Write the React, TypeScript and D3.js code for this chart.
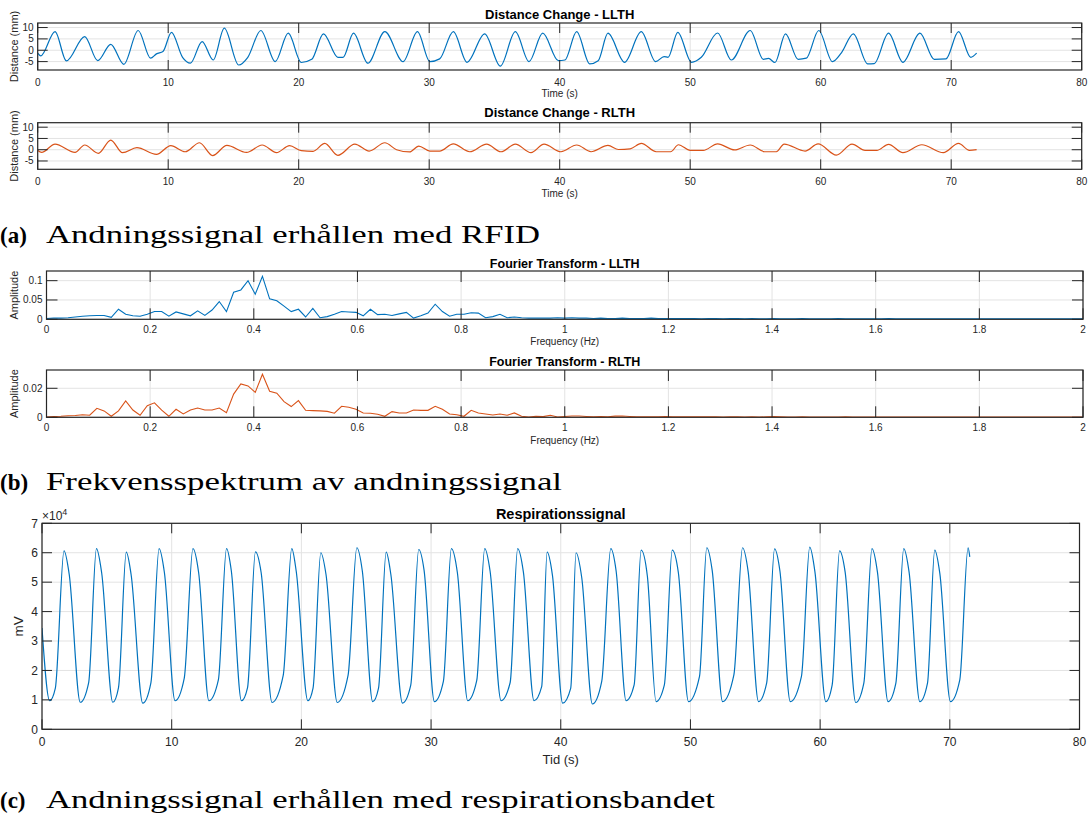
import React, { useRef, useEffect } from 'react';
import * as d3 from 'd3';

// distance change keypoints [time s, distance mm]
const llthDistance: [number, number][] = [
    [0, -1.3], [0.23, -2.5], [1.33, 8.2], [2.2, -4.7], [3.6, 6.0], [4.6, -4.6], [5.6, 2.6], [6.6, -6.2],
    [7.7, 8.7], [8.65, -3.5], [9.1, -1.6], [9.6, -0.6], [10.25, 7.9], [11.1, -3.1], [11.7, -5.7], [12.6, 3.8],
    [13.45, -4.3], [14.3, 9.7], [15.4, -6.5], [16.1, -3.1], [17.1, 8.7], [18.2, -5.0], [19.2, 7.5], [20.2, -5.4],
    [21.0, -4.0], [21.9, 7.2], [23.0, -3.1], [23.4, -3.1], [24.2, 7.5], [25.3, -5.7], [26.6, 8.2], [28.0, -5.0],
    [29.1, 8.2], [30.05, -5.0], [30.8, -3.8], [31.85, 8.2], [32.9, -5.3], [34.25, 7.2], [35.45, -7.0], [36.6, 8.2],
    [37.65, -5.0], [38.7, 7.5], [39.9, -4.6], [40.4, -4.3], [41.3, 8.2], [42.3, -6.0], [42.95, -4.6], [43.7, 7.5],
    [44.97, -5.3], [46.25, 8.2], [47.35, -5.0], [48.0, -2.8], [48.3, -3.1], [49.05, 7.9], [50.1, -5.3], [50.85, -3.1],
    [52.1, 7.6], [53.15, -4.3], [54.6, 8.7], [55.6, -4.0], [56.0, -3.6], [56.5, -5.4], [57.3, 7.2], [58.27, -4.0],
    [58.9, -3.5], [59.85, 8.7], [60.9, -5.0], [61.6, -1.0], [62.5, 7.2], [63.6, -6.0], [64.1, -5.9], [65.2, 7.5],
    [66.3, -5.3], [67.6, 7.5], [68.7, -4.0], [69.6, -3.8], [70.56, 8.2], [71.5, -3.1], [71.95, -1.3],
];

const rlthDistance: [number, number][] = [
    [0, -0.4], [0.3, -1.2], [1.33, 2.5], [2.86, -1.2], [3.6, 2.1], [4.65, -1.6], [5.6, 4.3], [6.5, -1.3],
    [7.6, 0.9], [9.1, -2.1], [10.2, 1.8], [11.3, -0.9], [12.4, 3.1], [13.4, -2.6], [14.5, 1.9], [16.0, -1.2],
    [17.2, 2.1], [18.3, -1.3], [19.3, 1.8], [20.2, -0.4], [21.1, -0.7], [22.0, 2.8], [23.0, -2.5], [24.3, 2.5],
    [25.4, -0.6], [26.6, 3.1], [27.5, 0.0], [28.5, -1.0], [29.2, 1.6], [30.05, -0.6], [30.8, -0.6], [31.85, 2.6],
    [33.1, -0.9], [34.4, 2.5], [35.5, -0.9], [36.6, 2.5], [37.8, -1.3], [38.8, 2.5], [40.1, -0.9], [41.3, 2.1],
    [42.4, -0.9], [43.7, 1.9], [44.5, 0.1], [45.4, 0.4], [46.25, 2.8], [47.4, -0.9], [48.5, -0.9], [49.1, 2.2],
    [50.0, -0.3], [51.0, -0.3], [52.1, 2.6], [53.4, -0.1], [54.6, 2.1], [55.7, -0.9], [56.6, -0.9], [57.2, 2.5],
    [58.8, -0.6], [59.8, 2.6], [61.2, -2.4], [62.4, 2.5], [63.4, -0.3], [64.3, -0.3], [65.2, 2.4], [66.3, -1.3],
    [67.75, 2.2], [69.4, -1.3], [70.56, 2.8], [71.4, -0.3], [71.95, 0],
];

// spectrum amplitude per bin, bin width 1/72 Hz, 0..2 Hz
const binHz = 1 / 72;
const llthSpectrum = [
    0.002, 0.003, 0.003, 0.004, 0.006, 0.008, 0.009, 0.010, 0.010, 0.005,
    0.026, 0.013, 0.009, 0.008, 0.013, 0.020, 0.020, 0.008, 0.019, 0.014,
    0.009, 0.022, 0.010, 0.024, 0.046, 0.020, 0.070, 0.076, 0.100, 0.065,
    0.111, 0.053, 0.048, 0.034, 0.020, 0.026, 0.006, 0.028, 0.004, 0.007,
    0.013, 0.020, 0.019, 0.018, 0.009, 0.026, 0.012, 0.013, 0.010, 0.014,
    0.018, 0.003, 0.009, 0.016, 0.039, 0.020, 0.008, 0.013, 0.013, 0.017,
    0.016, 0.004, 0.007, 0.013, 0.004, 0.006, 0.004, 0.003, 0.003, 0.003,
    0.003, 0.004, 0.003,
    0.004, 0.003, 0.003, 0.002, 0.003, 0.002, 0.002, 0.003, 0.002, 0.002,
    0.002, 0.003, 0.002, 0.002, 0.002, 0.002, 0.002, 0.002, 0.001, 0.002,
    0.002, 0.001, 0.002, 0.002, 0.001, 0.002, 0.001, 0.001, 0.002, 0.001,
    0.001, 0.001, 0.002, 0.001, 0.001, 0.001, 0.001, 0.002, 0.001, 0.001,
    0.001, 0.001, 0.001, 0.001, 0.002, 0.001, 0.001, 0.001, 0.001, 0.001,
    0.001, 0.001, 0.001, 0.001, 0.001, 0.001, 0.001, 0.001, 0.001, 0.001,
    0.001, 0.001, 0.001, 0.001, 0.001, 0.001, 0.001, 0.001, 0.001, 0.001,
    0.001, 0.001,
];
const rlthSpectrum = [
    0.0002, 0.0005, 0.0007, 0.0011, 0.0012, 0.0018, 0.0014, 0.0062, 0.0044, 0.0007,
    0.0044, 0.0113, 0.0050, 0.0014, 0.0080, 0.0100, 0.0050, 0.0007, 0.0055, 0.0023,
    0.0050, 0.0064, 0.0050, 0.0050, 0.0064, 0.0032, 0.0160, 0.0230, 0.0216, 0.0172,
    0.0297, 0.0180, 0.0166, 0.0108, 0.0074, 0.0115, 0.0048, 0.0046, 0.0044, 0.0041,
    0.0028, 0.0076, 0.0069, 0.0055, 0.0030, 0.0028, 0.0021, 0.0007, 0.0039, 0.0030,
    0.0030, 0.0050, 0.0048, 0.0048, 0.0076, 0.0055, 0.0023, 0.0018, 0.0007, 0.0048,
    0.0030, 0.0023, 0.0016, 0.0023, 0.0014, 0.0030, 0.0007, 0.0002, 0.0007, 0.0005,
    0.0014, 0.0002, 0.0005,
    0.0009, 0.0009, 0.0006, 0.0004, 0.0005, 0.0004, 0.0008, 0.0009, 0.0006, 0.0004,
    0.0003, 0.0004, 0.0003, 0.0005, 0.0004, 0.0003, 0.0003, 0.0004, 0.0003, 0.0003,
    0.0003, 0.0002, 0.0003, 0.0003, 0.0002, 0.0003, 0.0002, 0.0003, 0.0005, 0.0003,
    0.0002, 0.0002, 0.0003, 0.0002, 0.0002, 0.0002, 0.0002, 0.0002, 0.0003, 0.0002,
    0.0002, 0.0002, 0.0002, 0.0002, 0.0002, 0.0002, 0.0002, 0.0002, 0.0002, 0.0002,
    0.0002, 0.0002, 0.0002, 0.0002, 0.0002, 0.0002, 0.0002, 0.0002, 0.0002, 0.0002,
    0.0002, 0.0002, 0.0002, 0.0002, 0.0002, 0.0002, 0.0002, 0.0002, 0.0002, 0.0002,
    0.0002, 0.0002,
];

// respiration band keypoints [time s, mV]: trough, start of rise, peak, shoulder
const respiration: [number, number][] = [
    [0, 34400],
    [0.59, 9700], [1.03, 14000], [1.70, 60600], [2.10, 52600],
    [2.95, 9200], [3.60, 15900], [4.20, 61400], [4.60, 53200],
    [5.46, 9200], [5.90, 14200], [6.50, 60200], [6.87, 52600],
    [7.77, 8900], [8.40, 15900], [9.03, 61400], [9.44, 53200],
    [10.26, 9700], [10.97, 17400], [11.64, 61400], [12.08, 53200],
    [12.87, 9700], [13.60, 16800], [14.23, 61400], [14.60, 53800],
    [15.38, 9700], [15.85, 14200], [16.46, 60300], [16.90, 53200],
    [17.74, 9100], [18.60, 18300], [19.26, 61400], [19.60, 53800],
    [20.50, 9700], [20.90, 14000], [21.50, 60000], [21.90, 52600],
    [22.77, 9100], [23.60, 18300], [24.28, 61700], [24.70, 53800],
    [25.50, 9400], [25.95, 14000], [26.54, 60200], [26.90, 52600],
    [27.80, 8900], [28.43, 14900], [29.05, 61100], [29.46, 54100],
    [30.26, 9400], [30.95, 16300], [31.57, 61400], [32.03, 53200],
    [32.83, 9700], [33.52, 16500], [34.14, 61400], [34.55, 53800],
    [35.40, 9700], [36.10, 15900], [36.68, 61400], [37.12, 53400],
    [37.94, 9700], [38.53, 14500], [38.95, 60200], [39.36, 52300],
    [40.15, 8900], [40.77, 14000], [41.18, 60000], [41.62, 51500],
    [42.44, 8600], [43.16, 16300], [43.86, 61400], [44.27, 53800],
    [45.04, 9700], [45.66, 15100], [46.20, 60900], [46.68, 52000],
    [47.35, 9400], [47.99, 15100], [48.60, 60900], [49.07, 53200],
    [49.85, 9400], [50.70, 18000], [51.26, 61700], [51.68, 53900],
    [52.48, 9400], [53.35, 18500], [54.02, 61700], [54.45, 53600],
    [55.25, 9400], [55.88, 15800], [56.49, 61300], [56.90, 53800],
    [57.70, 9400], [58.56, 18000], [59.20, 61900], [59.60, 53500],
    [60.44, 9400], [60.93, 15100], [61.50, 60600], [61.93, 53400],
    [62.75, 9100], [63.37, 15700], [64.00, 61400], [64.42, 53400],
    [65.24, 9400], [65.84, 15700], [66.45, 61400], [66.86, 53400],
    [67.69, 9400], [68.28, 15700], [68.84, 60900], [69.23, 53000],
    [70.05, 9400], [70.77, 16800], [71.41, 61700], [71.54, 58600],
];

const timeTicks = [0, 10, 20, 30, 40, 50, 60, 70, 80];
const distanceTicks = [-5, 0, 5, 10];
const freqTicks = [0, 0.2, 0.4, 0.6, 0.8, 1, 1.2, 1.4, 1.6, 1.8, 2];
const llthAmpTicks = [0, 0.05, 0.1];
const rlthAmpTicks = [0, 0.02];
const respTicks = [0, 10000, 20000, 30000, 40000, 50000, 60000, 70000];

const BLUE = '#0072BD';
const ORANGE = '#D95319';
const AX = '#262626';
const GRID = '#e3e3e3';
const SANS = 'Liberation Sans, Arial, Helvetica, sans-serif';
const SERIF = 'Liberation Serif';

interface Panel {
    left: number; right: number; top: number; bottom: number;
    xDomain: [number, number]; yDomain: [number, number];
    xTicks: number[]; yTicks: number[];
    yFmt: (d: number) => string;
    tickFont: number; tickLen: number; xTickBase: number;
    title: string; titleFont: number; titleBase: number;
    xLabel: string; xLabelFont: number; xLabelBase: number;
    yLabel: string; yLabelFont: number; yLabelX: number;
}

type Sel = d3.Selection<SVGSVGElement, unknown, null, undefined>;

function drawPanel(svg: Sel, p: Panel, id: string,
    drawData: (g: d3.Selection<SVGGElement, unknown, null, undefined>, x: d3.ScaleLinear<number, number>, y: d3.ScaleLinear<number, number>) => void) {
    const x = d3.scaleLinear().domain(p.xDomain).range([p.left, p.right]);
    const y = d3.scaleLinear().domain(p.yDomain).range([p.bottom, p.top]);
    const g = svg.append('g');

    // grid
    g.selectAll('.vg').data(p.xTicks).enter().append('line')
        .attr('x1', d => x(d)).attr('x2', d => x(d))
        .attr('y1', p.top).attr('y2', p.bottom)
        .attr('stroke', GRID).attr('stroke-width', 1);
    g.selectAll('.hg').data(p.yTicks).enter().append('line')
        .attr('x1', p.left).attr('x2', p.right)
        .attr('y1', d => y(d)).attr('y2', d => y(d))
        .attr('stroke', GRID).attr('stroke-width', 1);

    svg.append('clipPath').attr('id', id).append('rect')
        .attr('x', p.left).attr('y', p.top)
        .attr('width', p.right - p.left).attr('height', p.bottom - p.top);
    const dg = g.append('g').attr('clip-path', `url(#${id})`);
    drawData(dg, x, y);

    // ticks, inward on all four sides
    const tk = g.append('g').attr('stroke', AX).attr('stroke-width', 1);
    p.xTicks.forEach(t => {
        tk.append('line').attr('x1', x(t)).attr('x2', x(t)).attr('y1', p.bottom).attr('y2', p.bottom - p.tickLen);
        tk.append('line').attr('x1', x(t)).attr('x2', x(t)).attr('y1', p.top).attr('y2', p.top + p.tickLen);
    });
    p.yTicks.forEach(t => {
        tk.append('line').attr('x1', p.left).attr('x2', p.left + p.tickLen).attr('y1', y(t)).attr('y2', y(t));
        tk.append('line').attr('x1', p.right).attr('x2', p.right - p.tickLen).attr('y1', y(t)).attr('y2', y(t));
    });

    g.append('rect')
        .attr('x', p.left).attr('y', p.top)
        .attr('width', p.right - p.left).attr('height', p.bottom - p.top)
        .attr('fill', 'none').attr('stroke', AX).attr('stroke-width', 1.2);

    // tick labels
    g.selectAll('.xl').data(p.xTicks).enter().append('text')
        .attr('x', d => x(d)).attr('y', p.bottom + p.xTickBase)
        .attr('text-anchor', 'middle')
        .attr('font-family', SANS).attr('font-size', p.tickFont).attr('fill', AX)
        .text(d => String(d));
    g.selectAll('.yl').data(p.yTicks).enter().append('text')
        .attr('x', p.left - 4).attr('y', d => y(d) + p.tickFont * 0.35)
        .attr('text-anchor', 'end')
        .attr('font-family', SANS).attr('font-size', p.tickFont).attr('fill', AX)
        .text(d => p.yFmt(d));

    // title and labels
    g.append('text')
        .attr('x', (p.left + p.right) / 2).attr('y', p.titleBase)
        .attr('text-anchor', 'middle')
        .attr('font-family', SANS).attr('font-size', p.titleFont).attr('font-weight', 'bold')
        .attr('fill', '#000')
        .text(p.title);
    g.append('text')
        .attr('x', (p.left + p.right) / 2).attr('y', p.xLabelBase)
        .attr('text-anchor', 'middle')
        .attr('font-family', SANS).attr('font-size', p.xLabelFont).attr('fill', AX)
        .text(p.xLabel);
    g.append('text')
        .attr('transform', `translate(${p.yLabelX + p.yLabelFont * 0.35},${(p.top + p.bottom) / 2}) rotate(-90)`)
        .attr('text-anchor', 'middle')
        .attr('font-family', SANS).attr('font-size', p.yLabelFont).attr('fill', AX)
        .text(p.yLabel);

    return { x, y, g };
}

function caption(svg: Sel, label: string, text: string, baseline: number, width: number) {
    svg.append('text')
        .attr('x', 0).attr('y', baseline)
        .attr('font-family', SERIF).attr('font-size', 23).attr('font-weight', 'bold')
        .attr('fill', '#000')
        .text(label);
    svg.append('text')
        .attr('x', 46).attr('y', baseline)
        .attr('textLength', width).attr('lengthAdjust', 'spacingAndGlyphs')
        .attr('font-family', SERIF).attr('font-size', 25)
        .attr('fill', '#000')
        .text(text);
}

const App: React.FC = () => {
    const svgRef = useRef<SVGSVGElement | null>(null);

    useEffect(() => {
        const svg = d3.select(svgRef.current!) as Sel;
        svg.selectAll('*').remove();
        svg.append('rect').attr('width', 1088).attr('height', 823).attr('fill', '#fff');

        const distLine = d3.line<[number, number]>().curve(d3.curveMonotoneX);
        const distBase = {
            left: 37.7, right: 1081.7,
            xDomain: [0, 80] as [number, number], yDomain: [-8.7, 12] as [number, number],
            xTicks: timeTicks, yTicks: distanceTicks, yFmt: (d: number) => String(d),
            tickFont: 10, tickLen: 10, xTickBase: 15.5,
            titleFont: 13, xLabel: 'Time (s)', xLabelFont: 10,
            yLabel: 'Distance (mm)', yLabelFont: 11, yLabelX: 14,
        };

        drawPanel(svg, { ...distBase, top: 23, bottom: 70, title: 'Distance Change - LLTH', titleBase: 18.5, xLabelBase: 96.5 }, 'c1',
            (g, x, y) => {
                g.append('path').datum(llthDistance)
                    .attr('d', distLine.x(d => x(d[0])).y(d => y(d[1])))
                    .attr('fill', 'none').attr('stroke', BLUE).attr('stroke-width', 1.2);
            });
        drawPanel(svg, { ...distBase, top: 122.7, bottom: 169.3, title: 'Distance Change - RLTH', titleBase: 116.5, xLabelBase: 196.5 }, 'c2',
            (g, x, y) => {
                g.append('path').datum(rlthDistance)
                    .attr('d', distLine.x(d => x(d[0])).y(d => y(d[1])))
                    .attr('fill', 'none').attr('stroke', ORANGE).attr('stroke-width', 1.2);
            });

        const specBase = {
            left: 46.5, right: 1083,
            xDomain: [0, 2] as [number, number],
            xTicks: freqTicks, yFmt: (d: number) => String(d),
            tickFont: 10, tickLen: 11, xTickBase: 14,
            titleFont: 12.5, xLabel: 'Frequency (Hz)', xLabelFont: 10,
            yLabel: 'Amplitude', yLabelFont: 11, yLabelX: 14,
        };
        const specLine = d3.line<number>();
        drawPanel(svg, { ...specBase, top: 271, bottom: 319.3, yDomain: [0, 0.125], yTicks: llthAmpTicks,
            title: 'Fourier Transform - LLTH', titleBase: 267.5, xLabelBase: 345 }, 'c3',
            (g, x, y) => {
                g.append('path').datum(llthSpectrum)
                    .attr('d', specLine.x((_, i) => x(i * binHz)).y(d => y(d)))
                    .attr('fill', 'none').attr('stroke', BLUE).attr('stroke-width', 1.1);
            });
        drawPanel(svg, { ...specBase, top: 370, bottom: 417.3, yDomain: [0, 0.0326], yTicks: rlthAmpTicks,
            title: 'Fourier Transform - RLTH', titleBase: 366, xLabelBase: 443.5 }, 'c4',
            (g, x, y) => {
                g.append('path').datum(rlthSpectrum)
                    .attr('d', specLine.x((_, i) => x(i * binHz)).y(d => y(d)))
                    .attr('fill', 'none').attr('stroke', ORANGE).attr('stroke-width', 1.1);
            });

        drawPanel(svg, {
            left: 42, right: 1079.5, top: 523.3, bottom: 729.3,
            xDomain: [0, 80], yDomain: [0, 70000],
            xTicks: timeTicks, yTicks: respTicks, yFmt: (d: number) => String(d / 10000),
            tickFont: 12, tickLen: 10, xTickBase: 17,
            title: 'Respirationssignal', titleFont: 14.5, titleBase: 519,
            xLabel: 'Tid (s)', xLabelFont: 13, xLabelBase: 764,
            yLabel: 'mV', yLabelFont: 13.5, yLabelX: 18,
        }, 'c5', (g, x, y) => {
            g.append('path').datum(respiration)
                .attr('d', d3.line<[number, number]>().curve(d3.curveMonotoneX).x(d => x(d[0])).y(d => y(d[1])))
                .attr('fill', 'none').attr('stroke', BLUE).attr('stroke-width', 1.2);
        });

        const exp = svg.append('text').attr('x', 42).attr('y', 520)
            .attr('font-family', SANS).attr('font-size', 12).attr('fill', AX);
        exp.append('tspan').text('\u00d710');
        exp.append('tspan').attr('dy', -5).attr('font-size', 9).text('4');

        caption(svg, '(a)', 'Andningssignal erhållen med RFID', 243, 494);
        caption(svg, '(b)', 'Frekvensspektrum av andningssignal', 490, 516);
        caption(svg, '(c)', 'Andningssignal erhållen med respirationsbandet', 808, 669);
    }, []);

    return (
        <svg ref={svgRef} width={1088} height={823}
            style={{ position: 'absolute', left: 0, top: 0 }}></svg>
    );
};

export default App;
